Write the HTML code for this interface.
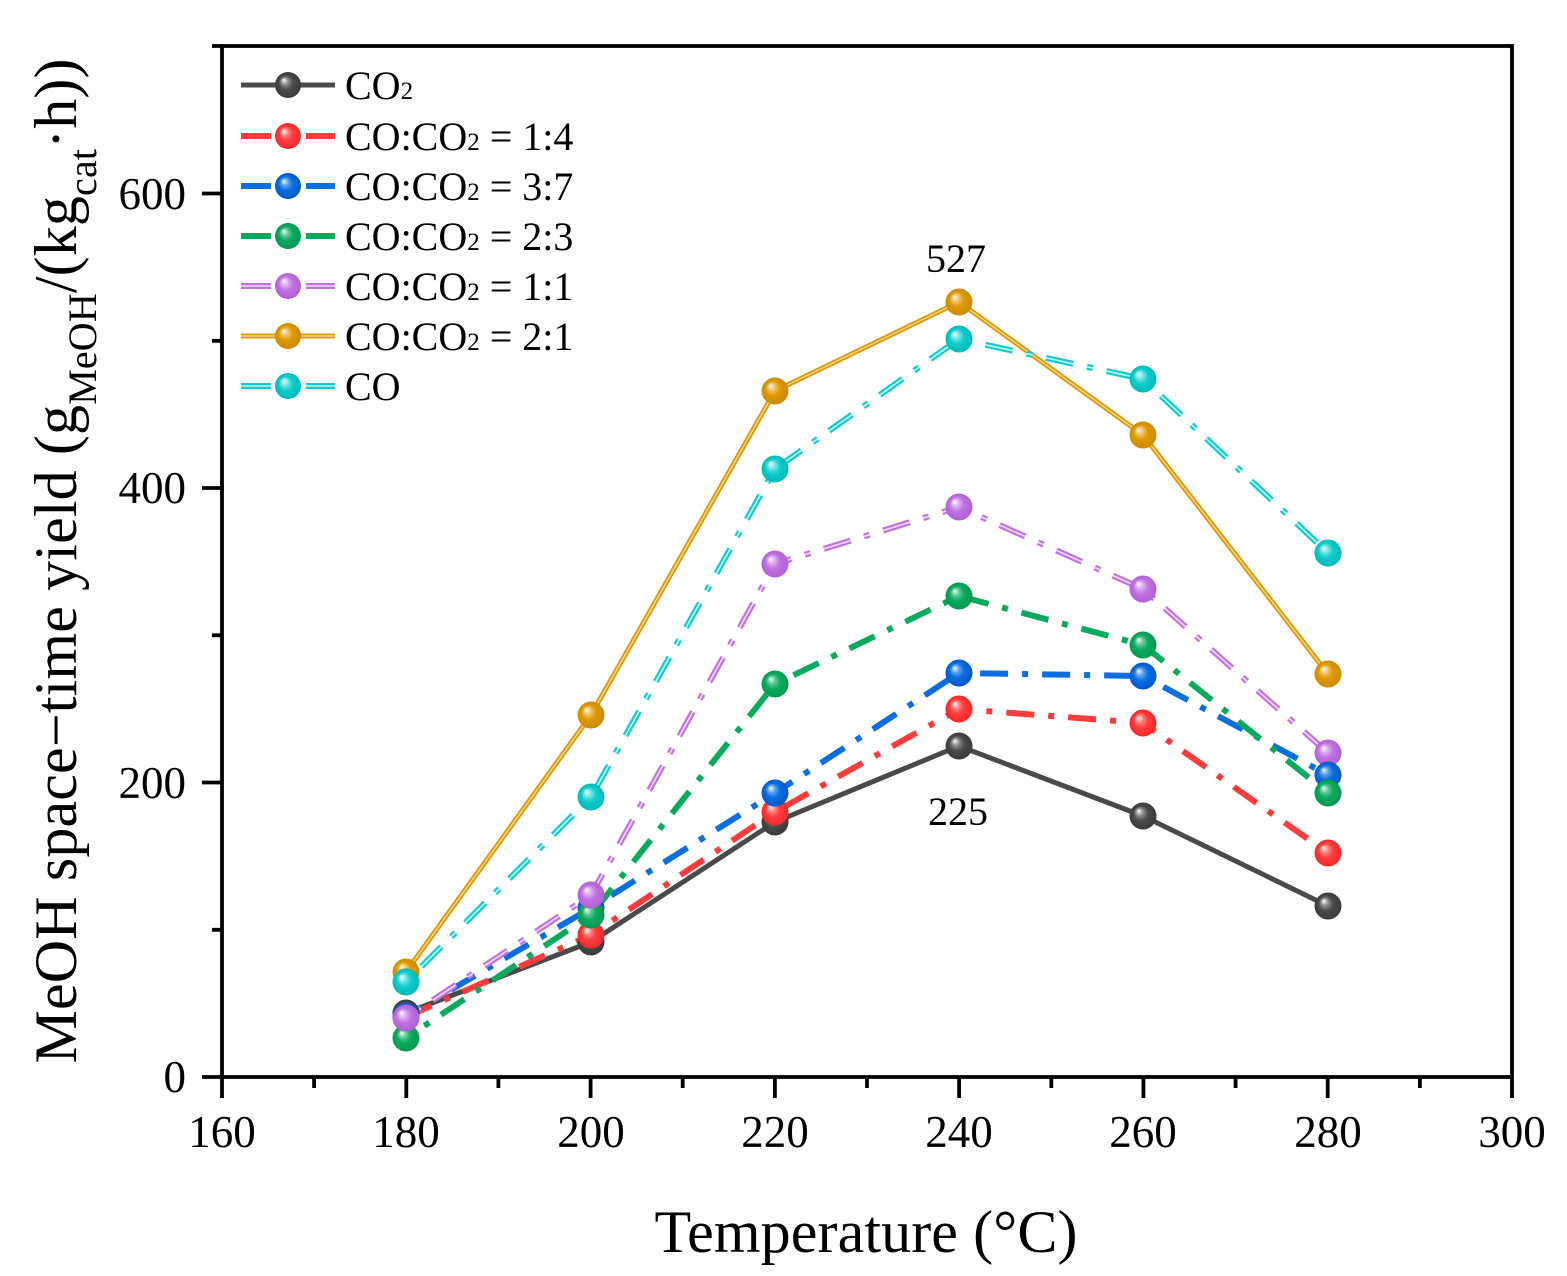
<!DOCTYPE html>
<html>
<head>
<meta charset="utf-8">
<style>
html,body{margin:0;padding:0;background:#fff;}
svg{display:block;}
text{font-family:"Liberation Serif","Times New Roman",serif;fill:#000;}
</style>
</head>
<body>
<svg width="1567" height="1276" viewBox="0 0 1567 1276" xmlns="http://www.w3.org/2000/svg">
<defs>
  <radialGradient id="gk" cx="0.5" cy="0.5" r="0.5" fx="0.33" fy="0.3"><stop offset="0" stop-color="#ffffff"/><stop offset="0.28" stop-color="#8a8a8a"/><stop offset="0.55" stop-color="#4a4a4a"/><stop offset="1" stop-color="#3a3a3a"/></radialGradient>
  <radialGradient id="gr" cx="0.5" cy="0.5" r="0.5" fx="0.33" fy="0.3"><stop offset="0" stop-color="#ffffff"/><stop offset="0.28" stop-color="#ff8080"/><stop offset="0.55" stop-color="#ff3c3c"/><stop offset="1" stop-color="#ee2a2a"/></radialGradient>
  <radialGradient id="gb" cx="0.5" cy="0.5" r="0.5" fx="0.33" fy="0.3"><stop offset="0" stop-color="#ffffff"/><stop offset="0.28" stop-color="#5a9ef0"/><stop offset="0.55" stop-color="#0a6ee0"/><stop offset="1" stop-color="#0058c8"/></radialGradient>
  <radialGradient id="gg" cx="0.5" cy="0.5" r="0.5" fx="0.33" fy="0.3"><stop offset="0" stop-color="#ffffff"/><stop offset="0.28" stop-color="#5cc894"/><stop offset="0.55" stop-color="#0aaa5e"/><stop offset="1" stop-color="#05994f"/></radialGradient>
  <radialGradient id="gp" cx="0.5" cy="0.5" r="0.5" fx="0.33" fy="0.3"><stop offset="0" stop-color="#ffffff"/><stop offset="0.28" stop-color="#dcaaf0"/><stop offset="0.55" stop-color="#c172e0"/><stop offset="1" stop-color="#b060d4"/></radialGradient>
  <radialGradient id="go" cx="0.5" cy="0.5" r="0.5" fx="0.33" fy="0.3"><stop offset="0" stop-color="#ffffff"/><stop offset="0.28" stop-color="#f0c060"/><stop offset="0.55" stop-color="#dd9900"/><stop offset="1" stop-color="#cc8a00"/></radialGradient>
  <radialGradient id="gc" cx="0.5" cy="0.5" r="0.5" fx="0.33" fy="0.3"><stop offset="0" stop-color="#ffffff"/><stop offset="0.28" stop-color="#70e4e4"/><stop offset="0.55" stop-color="#10cccc"/><stop offset="1" stop-color="#00baba"/></radialGradient>
</defs>

<!-- axes frame -->
<g stroke="#000" stroke-width="3.8" fill="none">
  <rect x="222" y="46" width="1290" height="1031"/>
  <path d="M222 1077V1098 M406.3 1077V1098 M590.6 1077V1098 M774.9 1077V1098 M959.1 1077V1098 M1143.4 1077V1098 M1327.7 1077V1098 M1512 1077V1098"/>
  <path d="M314.1 1077V1088 M498.4 1077V1088 M682.7 1077V1088 M867 1077V1088 M1051.3 1077V1088 M1235.6 1077V1088 M1419.9 1077V1088"/>
  <path d="M202 1077H222 M202 782.5H222 M202 488H222 M202 193.5H222"/>
  <path d="M212 929.8H222 M212 635.3H222 M212 340.8H222 M212 46H222"/>
</g>

<!-- tick labels -->
<g font-size="45" text-anchor="middle">
  <text x="222" y="1147">160</text>
  <text x="406" y="1147">180</text>
  <text x="591" y="1147">200</text>
  <text x="775" y="1147">220</text>
  <text x="959" y="1147">240</text>
  <text x="1143" y="1147">260</text>
  <text x="1328" y="1147">280</text>
  <text x="1512" y="1147">300</text>
</g>
<g font-size="45" text-anchor="end">
  <text x="186" y="1092">0</text>
  <text x="186" y="798">200</text>
  <text x="186" y="503">400</text>
  <text x="186" y="209">600</text>
</g>

<!-- axis titles -->
<text x="866" y="1252" font-size="60" text-anchor="middle" textLength="423" lengthAdjust="spacing">Temperature (°C)</text>
<text transform="translate(76,561) rotate(-90)" font-size="60" text-anchor="middle" textLength="1005" lengthAdjust="spacing">MeOH space−time yield (g<tspan font-size="40" dy="20">MeOH</tspan><tspan dy="-20">/(kg</tspan><tspan font-size="40" dy="20">cat</tspan><tspan dy="-20">·h))</tspan></text>

<!-- series lines -->
<g fill="none" stroke-linejoin="round">
  <polyline points="406,1013 591,942 775,822 959,746 1143,816 1328,906" stroke="#4a4a4a" stroke-width="5"/>
  <polyline points="406,1017 591,935 775,812 959,709 1143,723 1328,853" stroke="#ff3c3c" stroke-width="6" stroke-dasharray="28 14 6 14"/>
  <polyline points="406,1016 591,908 775,793 959,673 1143,676 1328,775" stroke="#0a6ee0" stroke-width="6" stroke-dasharray="28 14 6 14" stroke-dashoffset="10"/>
  <polyline points="406,1038 591,915 775,684 959,596 1143,645 1328,793" stroke="#0aaa5e" stroke-width="6" stroke-dasharray="28 14 6 14" stroke-dashoffset="20"/>
  <polyline points="406,1018 591,895 775,564 959,507 1143,589 1328,753" stroke="#c172e0" stroke-width="6" stroke-dasharray="28 14 6 14" stroke-dashoffset="30"/>
  <polyline points="406,1018 591,895 775,564 959,507 1143,589 1328,753" stroke="#f0dcf8" stroke-width="1.6" stroke-dasharray="28 14 6 14" stroke-dashoffset="30"/>
  <polyline points="406,972 591,715 775,391 959,302 1143,435 1328,674" stroke="#dd9900" stroke-width="5"/>
  <polyline points="406,972 591,715 775,391 959,302 1143,435 1328,674" stroke="#f4d896" stroke-width="1.4"/>
  <polyline points="406,982 591,797 775,469 959,339 1143,379 1328,553" stroke="#10cccc" stroke-width="6" stroke-dasharray="28 14 6 14" stroke-dashoffset="40"/>
  <polyline points="406,982 591,797 775,469 959,339 1143,379 1328,553" stroke="#c8f4f4" stroke-width="1.6" stroke-dasharray="28 14 6 14" stroke-dashoffset="40"/>
</g>

<!-- markers -->
<g>
  <g fill="url(#gk)">
    <circle cx="406" cy="1013" r="13.5"/><circle cx="591" cy="942" r="13.5"/><circle cx="775" cy="822" r="13.5"/><circle cx="959" cy="746" r="13.5"/><circle cx="1143" cy="816" r="13.5"/><circle cx="1328" cy="906" r="13.5"/>
  </g>
  <g fill="url(#gr)">
    <circle cx="406" cy="1017" r="13.5"/><circle cx="591" cy="935" r="13.5"/><circle cx="775" cy="812" r="13.5"/><circle cx="959" cy="709" r="13.5"/><circle cx="1143" cy="723" r="13.5"/><circle cx="1328" cy="853" r="13.5"/>
  </g>
  <g fill="url(#gb)">
    <circle cx="406" cy="1016" r="13.5"/><circle cx="591" cy="908" r="13.5"/><circle cx="775" cy="793" r="13.5"/><circle cx="959" cy="673" r="13.5"/><circle cx="1143" cy="676" r="13.5"/>
  </g>
  <g fill="url(#gp)">
    <circle cx="1328" cy="753" r="13.5"/>
  </g>
  <g fill="url(#gb)">
    <circle cx="1328" cy="775" r="13.5"/>
  </g>
  <g fill="url(#gg)">
    <circle cx="406" cy="1038" r="13.5"/><circle cx="591" cy="915" r="13.5"/><circle cx="775" cy="684" r="13.5"/><circle cx="959" cy="596" r="13.5"/><circle cx="1143" cy="645" r="13.5"/><circle cx="1328" cy="793" r="13.5"/>
  </g>
  <g fill="url(#gp)">
    <circle cx="406" cy="1018" r="13.5"/><circle cx="591" cy="895" r="13.5"/><circle cx="775" cy="564" r="13.5"/><circle cx="959" cy="507" r="13.5"/><circle cx="1143" cy="589" r="13.5"/>
  </g>
  <g fill="url(#go)">
    <circle cx="406" cy="972" r="13.5"/><circle cx="591" cy="715" r="13.5"/><circle cx="775" cy="391" r="13.5"/><circle cx="959" cy="302" r="13.5"/><circle cx="1143" cy="435" r="13.5"/><circle cx="1328" cy="674" r="13.5"/>
  </g>
  <g fill="url(#gc)">
    <circle cx="406" cy="982" r="13.5"/><circle cx="591" cy="797" r="13.5"/><circle cx="775" cy="469" r="13.5"/><circle cx="959" cy="339" r="13.5"/><circle cx="1143" cy="379" r="13.5"/><circle cx="1328" cy="553" r="13.5"/>
  </g>
</g>

<!-- annotations -->
<text x="956" y="272" font-size="40" text-anchor="middle">527</text>
<text x="958" y="825" font-size="40" text-anchor="middle">225</text>

<!-- legend -->
<g fill="none">
  <path d="M241 85H335" stroke="#4a4a4a" stroke-width="5"/>
  <path d="M241 136H271 M306 136H335" stroke="#ff3c3c" stroke-width="6"/>
  <path d="M241 186H271 M306 186H335" stroke="#0a6ee0" stroke-width="6"/>
  <path d="M241 236H271 M306 236H335" stroke="#0aaa5e" stroke-width="6"/>
  <path d="M241 286H271 M306 286H335" stroke="#c172e0" stroke-width="6"/>
  <path d="M241 286H271 M306 286H335" stroke="#f0dcf8" stroke-width="1.6"/>
  <path d="M241 336H335" stroke="#dd9900" stroke-width="5"/>
  <path d="M241 336H335" stroke="#f4d896" stroke-width="1.4"/>
  <path d="M241 386H271 M306 386H335" stroke="#10cccc" stroke-width="6"/>
  <path d="M241 386H271 M306 386H335" stroke="#c8f4f4" stroke-width="1.6"/>
</g>
<circle cx="288" cy="85" r="13" fill="url(#gk)"/>
<circle cx="288" cy="136" r="13" fill="url(#gr)"/>
<circle cx="288" cy="186" r="13" fill="url(#gb)"/>
<circle cx="288" cy="236" r="13" fill="url(#gg)"/>
<circle cx="288" cy="286" r="13" fill="url(#gp)"/>
<circle cx="288" cy="336" r="13" fill="url(#go)"/>
<circle cx="288" cy="386" r="13" fill="url(#gc)"/>
<g font-size="40">
  <text x="345" y="99">CO<tspan font-size="25">2</tspan></text>
  <text x="345" y="150">CO:CO<tspan font-size="25">2</tspan> = 1:4</text>
  <text x="345" y="200">CO:CO<tspan font-size="25">2</tspan> = 3:7</text>
  <text x="345" y="250">CO:CO<tspan font-size="25">2</tspan> = 2:3</text>
  <text x="345" y="300">CO:CO<tspan font-size="25">2</tspan> = 1:1</text>
  <text x="345" y="350">CO:CO<tspan font-size="25">2</tspan> = 2:1</text>
  <text x="345" y="400">CO</text>
</g>
</svg>
</body>
</html>
